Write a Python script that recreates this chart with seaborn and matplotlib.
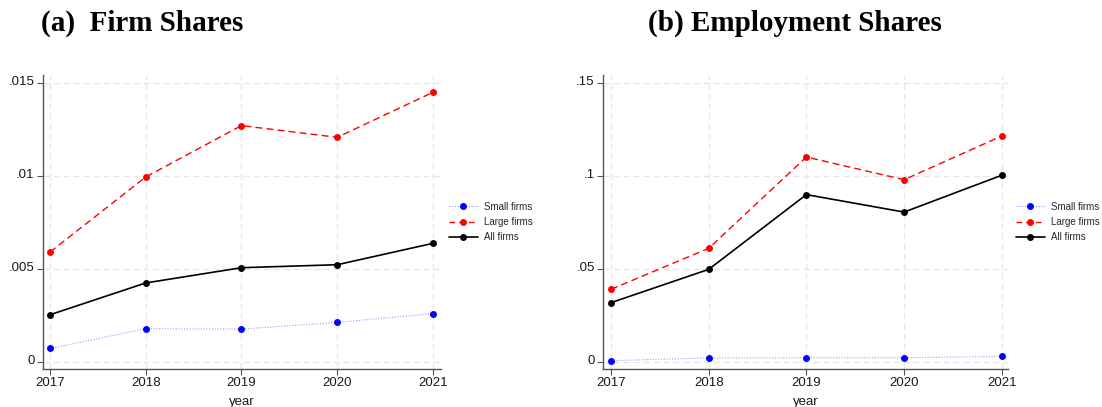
import matplotlib
matplotlib.use("Agg")
import matplotlib.pyplot as plt
import matplotlib.transforms as mtransforms
import seaborn as sns
import pandas as pd
from matplotlib.ticker import FuncFormatter
from matplotlib.lines import Line2D

years = [2017, 2018, 2019, 2020, 2021]
groups = ["Small firms", "Large firms", "All firms"]

firm_small = [0.00073, 0.00179, 0.00177, 0.00213, 0.00260]
firm_large = [0.00591, 0.00995, 0.01271, 0.01208, 0.01450]
firm_all = [0.00254, 0.00425, 0.00507, 0.00523, 0.00638]

emp_small = [0.0007, 0.0022, 0.0023, 0.0023, 0.0030]
emp_large = [0.0391, 0.0611, 0.1102, 0.0980, 0.1215]
emp_all = [0.0319, 0.0498, 0.0900, 0.0806, 0.1004]

firm_ticks = [0, 0.005, 0.01, 0.015]
emp_ticks = [0, 0.05, 0.1, 0.15]


def long_frame(small, large, allf):
    rows = []
    for name, vals in zip(groups, [small, large, allf]):
        for y, v in zip(years, vals):
            rows.append({"year": y, "group": name, "share": v})
    return pd.DataFrame(rows)


sns.set_theme(style="white")
plt.rcParams["font.family"] = ["Liberation Sans", "DejaVu Sans"]

palette = {"Small firms": "#0000ff", "Large firms": "#ff0000", "All firms": "#000000"}
line_colors = {"Small firms": "#9a9aff", "Large firms": "#ff0000", "All firms": "#000000"}
dashes = {"Small firms": (1, 1.5), "Large firms": (5, 3), "All firms": ""}
widths = {"Small firms": 0.8, "Large firms": 1.0, "All firms": 1.2}
legend_styles = {"Small firms": (0, (1, 1.5)), "Large firms": (0, (4, 3)), "All firms": "-"}


def stata_fmt(v, _):
    if abs(v) < 1e-12:
        return "0"
    return ("%g" % v).replace("0.", ".", 1)


fig = plt.figure(figsize=(11.02, 4.07), dpi=100)
ax1 = fig.add_axes([43 / 1102, 38 / 407, 398 / 1102, 294 / 407])
ax2 = fig.add_axes([603 / 1102, 38 / 407, 405 / 1102, 294 / 407])

panels = [
    (ax1, long_frame(firm_small, firm_large, firm_all), firm_ticks,
     (2016.927, 2021.084), (-0.000376, 0.01543), "(a)  Firm Shares", 142),
    (ax2, long_frame(emp_small, emp_large, emp_all), emp_ticks,
     (2016.918, 2021.064), (-0.00376, 0.1543), "(b) Employment Shares", 795),
]

# y labels sit slightly above their tick marks
lift = mtransforms.ScaledTranslation(0, 2.5 / 100, fig.dpi_scale_trans)

for ax, df, yticks, xlim, ylim, title, tx in panels:
    sns.lineplot(data=df, x="year", y="share", hue="group", style="group",
                 palette=palette, dashes=dashes, markers={g: "o" for g in groups},
                 markersize=5, markeredgewidth=0, ax=ax, legend=False)
    for line, g in zip(ax.lines, groups):
        line.set_linewidth(widths[g])
        line.set_color(line_colors[g])
        line.set_markerfacecolor(palette[g])
        line.set_markeredgecolor(palette[g])
    ax.set_xlim(*xlim)
    ax.set_ylim(*ylim)
    ax.set_xticks(years)
    ax.set_yticks(yticks)
    ax.yaxis.set_major_formatter(FuncFormatter(stata_fmt))
    ax.grid(True, color="#e6e6e6", linestyle=(0, (5, 3)), linewidth=0.9)
    ax.set_axisbelow(True)
    for s in ["top", "right"]:
        ax.spines[s].set_visible(False)
    for s in ["left", "bottom"]:
        ax.spines[s].set_color("#555555")
        ax.spines[s].set_linewidth(1.0)
    ax.tick_params(axis="both", which="major", direction="out", length=4,
                   width=0.8, color="#555555", labelsize=9.5, labelcolor="#1a1a1a",
                   pad=2, left=True, bottom=True)
    for tick in ax.yaxis.get_major_ticks():
        tick.label1.set_transform(tick.label1.get_transform() + lift)
    ax.set_xlabel("year", fontsize=9.5, color="#1a1a1a", labelpad=5)
    ax.set_ylabel("")
    fig.text(tx / 1102, 1 - 23 / 407, title, ha="center", va="center", color="black",
             fontsize=21, fontweight="bold", family=["Liberation Serif", "DejaVu Serif"])

    handles = [Line2D([0], [0], color=line_colors[g], lw=widths[g],
                      linestyle=legend_styles[g], marker="o", markersize=5,
                      markerfacecolor=palette[g], markeredgecolor=palette[g],
                      markeredgewidth=0) for g in groups]
    ax.legend(handles, groups, loc="center left", bbox_to_anchor=(1.0, 0.5),
              frameon=False, fontsize=7, handlelength=3.0, handletextpad=0.6,
              labelspacing=0.55, borderaxespad=0.4)

fig.savefig("out.png", dpi=100, facecolor="white")
